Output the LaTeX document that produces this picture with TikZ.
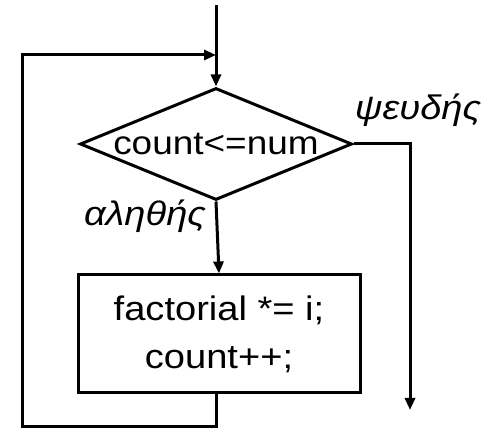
\documentclass[tikz,border=0pt]{standalone}
\usepackage{fontspec}
\setmainfont[FakeStretch=1.12]{Liberation Sans}
\usetikzlibrary{arrows.meta, positioning, shapes.geometric}

\begin{document}
\begin{tikzpicture}[
  x=1pt, y=-1pt,
  decision/.style={
    draw, shape aspect=2.43, inner sep=-16pt,
    minimum width=272pt, minimum height=112pt,
    align=center, line width=3pt, font=\fontsize{33}{38}\selectfont
  },
  process/.style={
    draw, minimum width=282pt, minimum height=118pt,
    align=center, line width=3pt, font=\fontsize{34}{48}\selectfont
  },
  flow/.style={-{Triangle[length=12pt, width=10pt]}, line width=3pt},
  branch/.style={font=\fontsize{34}{40}\selectfont\itshape}
]
\useasboundingbox (0,0) rectangle (485,430);

% Loop test and body
\node[decision, diamond] (cond) at (216,144) {count<=num};
\node[process] (body) at (219,334) {factorial *= i;\\count++;};

% Free ends
\coordinate (entry) at (216,5);
\coordinate (exit) at (410,410);
\coordinate (back) at (216,55);

% Branch labels
\node[branch] (yes) at (145,216) {αληθής};
\node[branch] (no) at (418,110) {ψευδής};

% Connectors
\draw[flow] (entry) -- (cond.north);
\draw[flow] (cond.south) -- (body.north);
\draw[flow] (cond.east) -| (exit);
\draw[flow] (cond.south |- body.south) -- ++(0,32) -| (22,55) -- (back);

\end{tikzpicture}
\end{document}
